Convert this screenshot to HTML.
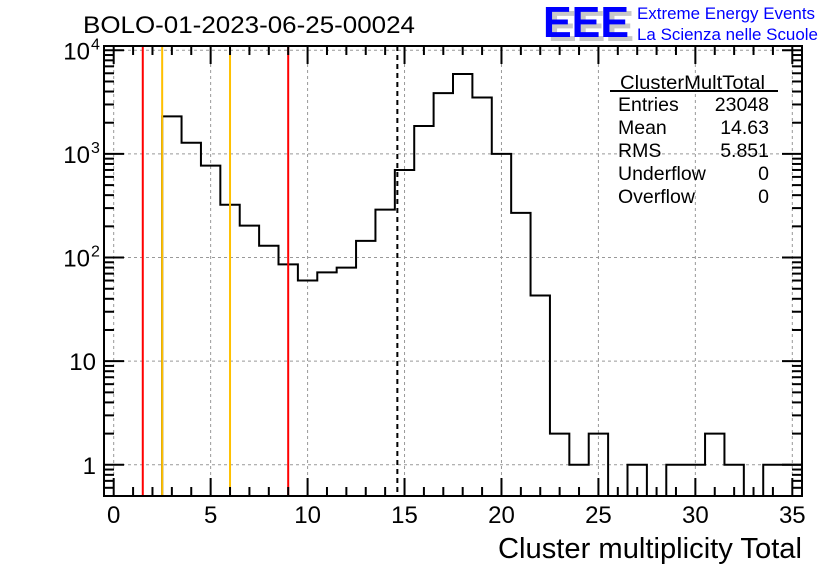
<!DOCTYPE html>
<html><head><meta charset="utf-8"><style>
body{margin:0;background:#fff;}
svg{display:block;font-family:"Liberation Sans",sans-serif;}
</style></head><body>
<svg id="c" width="836" height="572">
<rect width="836" height="572" fill="#fff"/>
<g id="grid"></g><g id="marks"></g><g id="axes"></g>
<text x="83" y="33" font-size="24.5" textLength="332" lengthAdjust="spacingAndGlyphs">BOLO-01-2023-06-25-00024</text>
<g>
<text x="548" y="41" font-size="44" font-weight="bold" fill="#c8c8c8" textLength="86" lengthAdjust="spacingAndGlyphs">EEE</text>
<text x="543" y="37" font-size="44" font-weight="bold" fill="#0000ff" textLength="86" lengthAdjust="spacingAndGlyphs">EEE</text>
<text x="637" y="19" font-size="17" fill="#0000ff" textLength="178" lengthAdjust="spacingAndGlyphs">Extreme Energy Events</text>
<text x="637" y="40" font-size="17" fill="#0000ff" textLength="181" lengthAdjust="spacingAndGlyphs">La Scienza nelle Scuole</text>
</g>
<g font-size="19.5">
<text x="620" y="89" textLength="145" lengthAdjust="spacingAndGlyphs">ClusterMultTotal</text>
<line x1="610" y1="91" x2="778" y2="91" stroke="#000" stroke-width="2"/>
<text x="618" y="111">Entries</text><text x="769" y="111" text-anchor="end">23048</text>
<text x="618" y="134">Mean</text><text x="769" y="134" text-anchor="end">14.63</text>
<text x="618" y="157">RMS</text><text x="769" y="157" text-anchor="end">5.851</text>
<text x="618" y="180">Underflow</text><text x="769" y="180" text-anchor="end">0</text>
<text x="618" y="203">Overflow</text><text x="769" y="203" text-anchor="end">0</text>
</g>
<text x="802" y="558" font-size="29" text-anchor="end" textLength="304" lengthAdjust="spacingAndGlyphs">Cluster multiplicity Total</text>
</svg>
<script>
const binCenters=[3,4,5,6,7,8,9,10,11,12,13,14,15,16,17,18,19,20,21,22,23,24,25,26,27,28,29,30,31,32,33,34,35];
const counts=[2300,1280,770,323,203,130,86,60,72,80,145,290,700,1860,3860,5900,3500,1000,270,43,2,1,2,0,1,0,1,1,2,1,0,1,1];
const xTicks=[0,5,10,15,20,25,30,35];
const yTickVals=[1,10,100,1000,10000];
const yTickBase=["1","10","10","10","10"];
const yTickExp=["","","2","3","4"];
const redLines=[1.5,9];
const orangeLines=[2.5,6];
const meanLine=[14.63];
const L=104,R=802,T=46,B=496,xmin=-0.5,xmax=35.5,ymin=0.5,ymax=11000;
const X=v=>L+(v-xmin)/(xmax-xmin)*(R-L);
const Y=v=>B-(Math.log10(v)-Math.log10(ymin))/(Math.log10(ymax)-Math.log10(ymin))*(B-T);
const NS="http://www.w3.org/2000/svg";
function mk(t,a,p){const e=document.createElementNS(NS,t);for(const k in a)e.setAttribute(k,a[k]);p.appendChild(e);return e;}
const grid=document.getElementById('grid'),marks=document.getElementById('marks'),axes=document.getElementById('axes');
xTicks.forEach(v=>{const g=mk('line',{x1:X(v),x2:X(v),y1:T,y2:B,stroke:'#999','stroke-dasharray':'3,3'},grid);

});
yTickVals.forEach(v=>{const g=mk('line',{x1:L,x2:R,y1:Y(v),y2:Y(v),stroke:'#999','stroke-dasharray':'3,3'},grid);

});
let d='';let prev=null;
binCenters.forEach((c,i)=>{const v=counts[i];const yv=v>0?Y(v):B;const x0=X(c-0.5),x1=X(c+0.5);
if(prev===null){d+=`M${x0},${B}L${x0},${yv}`;}else{d+=`L${x0},${yv}`;}
d+=`L${x1},${yv}`;prev=yv;});
d+=`L${X(binCenters[binCenters.length-1]+0.5)},${B}`;
const h=mk('path',{d:d,fill:'none',stroke:'#000','stroke-width':2},marks);


redLines.forEach(v=>{const l=mk('line',{x1:X(v),x2:X(v),y1:T,y2:B,stroke:'#ff0000','stroke-width':2},marks);

});
orangeLines.forEach(v=>{const l=mk('line',{x1:X(v),x2:X(v),y1:T,y2:B,stroke:'#ffc000','stroke-width':2},marks);

});
meanLine.forEach(v=>{const l=mk('line',{x1:X(v),x2:X(v),y1:T,y2:B,stroke:'#000','stroke-width':2,'stroke-dasharray':'5,4'},marks);

});
const f=mk('rect',{x:L,y:T,width:R-L,height:B-T,fill:'none',stroke:'#000','stroke-width':2},axes);


for(let v=0;v<=35;v++){const big=v%5===0;const len=big?18:9;
mk('line',{x1:X(v),x2:X(v),y1:B,y2:B-len,stroke:'#000','stroke-width':2},axes);
mk('line',{x1:X(v),x2:X(v),y1:T,y2:T+len,stroke:'#000','stroke-width':2},axes);}
xTicks.forEach(v=>{const t=mk('text',{x:X(v),y:B+27,'font-size':24,'text-anchor':'middle'},axes);t.textContent=v;

});
for(let e=-1;e<=4;e++){for(let m=1;m<10;m++){const v=m*Math.pow(10,e);if(v<ymin||v>ymax)continue;const len=m===1?20:10;
mk('line',{x1:L,x2:L+len,y1:Y(v),y2:Y(v),stroke:'#000','stroke-width':2},axes);
mk('line',{x1:R,x2:R-len,y1:Y(v),y2:Y(v),stroke:'#000','stroke-width':2},axes);}}
yTickVals.forEach((v,i)=>{const exp=yTickExp[i];
const t=mk('text',{x:exp?L-14:L-8,y:Y(v)+9,'font-size':24,'text-anchor':'end'},axes);


t.textContent=yTickBase[i];
if(exp){const s=mk('text',{x:L-13,y:Y(v)-1,'font-size':16},axes);s.textContent=exp;

}});
</script>
</body></html>
